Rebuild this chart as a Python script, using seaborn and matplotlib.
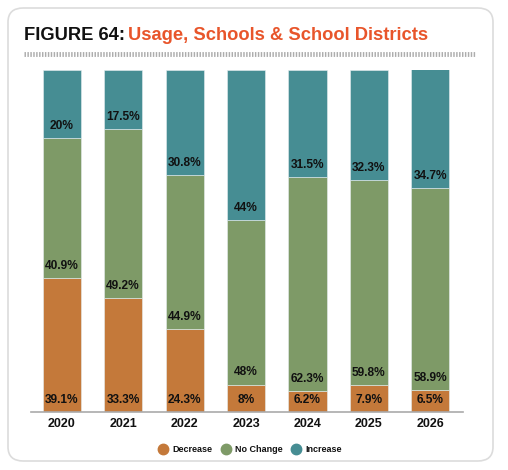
import matplotlib
matplotlib.use('Agg')
import matplotlib.pyplot as plt
import seaborn as sns
import pandas as pd
import numpy as np
from matplotlib.patches import FancyBboxPatch
from matplotlib.lines import Line2D
from matplotlib import font_manager as fm

years = ['2020', '2021', '2022', '2023', '2024', '2025', '2026']
decrease = [39.1, 33.3, 24.3, 8, 6.2, 7.9, 6.5]
no_change = [40.9, 49.2, 44.9, 48, 62.3, 59.8, 58.9]
increase = [20, 17.5, 30.8, 44, 31.5, 32.3, 34.7]
series_names = ['Decrease', 'No Change', 'Increase']
colors = ['#C4793A', '#7E9A67', '#468D93']

sns.set_theme(style='white')
installed = {f.name for f in fm.fontManager.ttflist}
fams = [f for f in ['Liberation Sans Narrow', 'DejaVu Sans Condensed',
                    'Liberation Sans', 'DejaVu Sans'] if f in installed]
plt.rcParams['font.family'] = fams

df = pd.DataFrame({'year': years, 'Decrease': decrease,
                   'No Change': no_change, 'Increase': increase})

fig = plt.figure(figsize=(5.08, 4.70), dpi=100)
W, H = 508, 470

# card background
card = FancyBboxPatch((8 / W, 1 - 461 / H), 485 / W, 453 / H,
                      boxstyle='round,pad=0,rounding_size=0.03',
                      transform=fig.transFigure, facecolor='white',
                      edgecolor='#DCDCDC', linewidth=1.2, zorder=-10)
fig.patches.append(card)

ax = fig.add_axes([31 / W, 1 - 412 / H, (463 - 31) / W, (412 - 69.5) / H])
ax.set_facecolor('none')
ax.set_zorder(5)

bottoms = np.zeros(len(years))
for name, col in zip(series_names, colors):
    vals = df[name].to_numpy()
    sns.barplot(data=df, x='year', y=name, color=col, width=0.62,
                bottom=bottoms, ax=ax, saturation=1, edgecolor='#E6EEF0',
                linewidth=0.4, zorder=2)
    for i, v in enumerate(vals):
        ax.annotate(f"{v:g}%", (i, bottoms[i]), xytext=(0, 8.8),
                    textcoords='offset points', ha='center', va='center',
                    fontsize=8.6, fontweight='bold', color='#111111', zorder=3)
    bottoms = bottoms + vals

ax.set_ylim(0, 100)
ax.set_xlim(-0.5, 6.53)
ax.set_xlabel('')
ax.set_ylabel('')
ax.set_yticks([])
for s in ['top', 'right', 'left']:
    ax.spines[s].set_visible(False)
ax.spines['bottom'].set_color('#AAAAAA')
ax.spines['bottom'].set_linewidth(1.2)
ax.tick_params(axis='x', length=0, pad=4)
for lab in ax.get_xticklabels():
    lab.set_fontsize(9)
    lab.set_fontweight('bold')
    lab.set_color('#111111')

# legend
handles = [Line2D([0], [0], marker='o', linestyle='none', markersize=7.5,
                  markerfacecolor=c, markeredgecolor=c) for c in colors]
leg = fig.legend(handles, series_names, loc='center', ncol=3,
                 bbox_to_anchor=(250 / W, 1 - 450 / H), frameon=False,
                 prop={'size': 6.5, 'weight': 'bold'}, handletextpad=0.5,
                 columnspacing=1.0, handlelength=1.0)
for t in leg.get_texts():
    t.set_color('#111111')

# title
t1 = fig.text(24 / W, 1 - 35 / H, 'FIGURE 64:', fontsize=13.2, fontweight='bold',
              color='#111111', ha='left', va='center')
fig.canvas.draw()
bb = t1.get_window_extent(renderer=fig.canvas.get_renderer())
fig.text(bb.x1 / W + 3 / W, 1 - 35 / H, 'Usage, Schools & School Districts',
         fontsize=13.2, fontweight='bold', color='#E8552B', ha='left', va='center')

# dashed rule under title
rule = Line2D([24 / W, 475 / W], [1 - 54 / H, 1 - 54 / H], transform=fig.transFigure,
              color='#ADADAD', linewidth=3.5, dashes=(0.3, 0.3))
fig.lines.append(rule)

fig.savefig('out.png', dpi=100)
